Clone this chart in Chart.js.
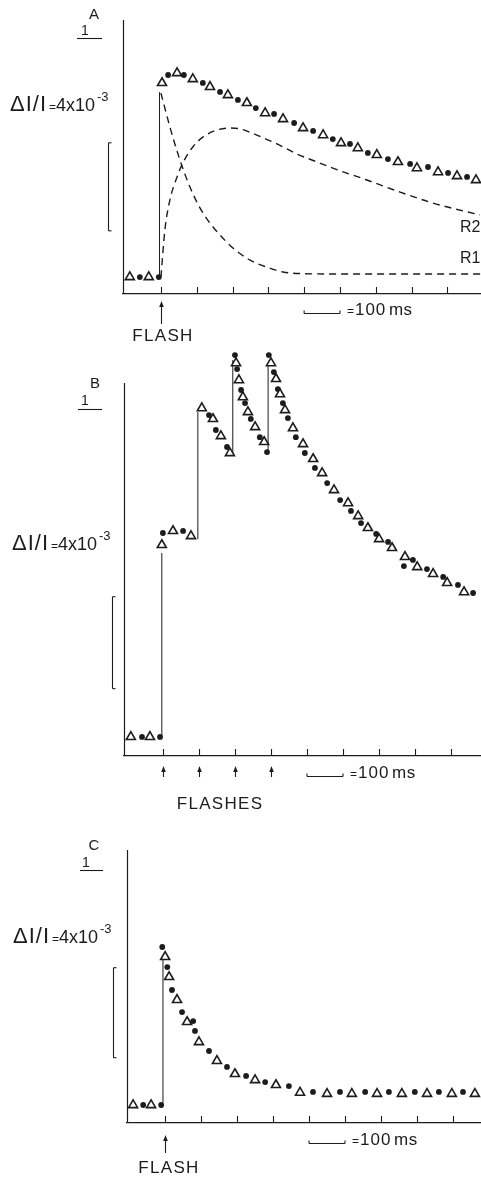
<!DOCTYPE html>
<html>
<head>
<meta charset="utf-8">
<script src="https://cdn.jsdelivr.net/npm/chart.js@4.4.1/dist/chart.umd.min.js"></script>
<style>
  html, body { margin: 0; padding: 0; background: #fff; }
  body { width: 481px; height: 1179px; position: relative; overflow: hidden; }
  canvas { position: absolute; left: 0; }
</style>
</head>
<body>
<canvas id="chartA" width="481" height="350" style="top:0"></canvas>
<canvas id="chartB" width="481" height="470" style="top:350px"></canvas>
<canvas id="chartC" width="481" height="359" style="top:820px"></canvas>
<script>
const INK = '#1c1c1c';
const FONT = "'Liberation Sans', Arial, sans-serif";

// x: ms after the (first) flash, y: dI/I in units of 1e-3
const TICKS_MS = [0, 100, 200, 300, 400, 500, 600, 700, 800];
const SCALE_BAR_MS = [400, 500];
const DELTA_UNITS = 4;

// A - one flash, with the two fitted components
const A_TRI_X = [-87, -34, 3, 45, 89, 137, 187, 240, 291, 341, 397, 453, 503, 550, 603, 662, 715, 774, 827, 880];
const A_TRI_Y = [0, 0, 8.82, 9.27, 9.0, 8.64, 8.27, 7.91, 7.45, 7.18, 6.77, 6.45, 6.09, 5.86, 5.55, 5.23, 4.95, 4.77, 4.59, 4.41];
const A_DOT_X = [-59, -6, 20, 64, 117, 165, 215, 265, 316, 372, 425, 480, 528, 578, 634, 696, 746, 802, 855];
const A_DOT_Y = [0, 0, 9.18, 9.18, 8.82, 8.41, 8.05, 7.68, 7.41, 7.0, 6.64, 6.27, 6.05, 5.64, 5.36, 5.14, 5.0, 4.73, 4.55];
const A_STEP_AT = [-4];
const A_STEP_FROM = [0];
const A_STEP_TO = [8.4];
const R1_X = [0, 25, 53, 81, 109, 137, 165, 201, 249, 296, 341, 388, 500, 700, 900];
const R1_Y = [8.36, 6.82, 5.32, 4.09, 3.14, 2.45, 1.91, 1.32, 0.77, 0.45, 0.23, 0.16, 0.14, 0.14, 0.14];
const R2_X = [0, 11, 25, 45, 61, 89, 117, 156, 193, 221, 268, 324, 380, 436, 480, 575, 668, 760, 891];
const R2_Y = [0, 2.14, 3.5, 4.55, 5.18, 5.91, 6.36, 6.68, 6.77, 6.73, 6.45, 6.05, 5.59, 5.23, 4.95, 4.41, 3.86, 3.36, 2.82];

// B - four flashes 100 ms apart
const B_TRI_X = [-89, -36, -3, 28, 78, 108, 139, 161, 186, 203, 211, 222, 236, 256, 281, 300, 314, 325, 339, 361, 389, 417, 442, 475, 514, 542, 569, 600, 636, 672, 706, 750, 789, 836];
const B_TRI_Y = [0, 0, 8.35, 8.96, 8.74, 14.3, 13.83, 13.09, 12.35, 16.26, 15.52, 14.78, 14.13, 13.48, 12.83, 16.26, 15.57, 14.91, 14.22, 13.43, 12.74, 12.09, 11.48, 10.74, 10.17, 9.61, 9.09, 8.61, 8.22, 7.83, 7.39, 7.09, 6.7, 6.3];
const B_DOT_X = [-58, -8, 0, 56, 128, 147, 178, 200, 206, 217, 228, 244, 269, 289, 294, 308, 319, 333, 347, 369, 394, 422, 456, 492, 522, 550, 592, 625, 669, 694, 733, 778, 819, 861];
const B_DOT_Y = [0, 0, 8.87, 8.96, 14.0, 13.35, 12.61, 16.61, 16.0, 15.09, 14.52, 13.83, 13.04, 12.39, 16.61, 15.87, 15.13, 14.52, 13.87, 13.04, 12.35, 11.7, 11.04, 10.3, 9.83, 9.3, 8.83, 8.48, 7.43, 7.7, 7.3, 6.96, 6.61, 6.26];
const B_STEP_AT = [-3, 97, 194, 292];
const B_STEP_FROM = [0, 8.61, 12.35, 12.39];
const B_STEP_TO = [8.0, 14.13, 16.39, 16.26];

// C - one flash, fast decay
const C_TRI_X = [-89, -39, 0, 11, 33, 61, 94, 144, 194, 250, 308, 375, 450, 519, 589, 658, 728, 797, 861];
const C_TRI_Y = [0, 0, 6.58, 5.69, 4.67, 3.69, 2.8, 1.96, 1.38, 1.11, 0.89, 0.55, 0.5, 0.5, 0.5, 0.5, 0.5, 0.5, 0.5];
const C_DOT_X = [-61, -11, -8, 6, 19, 47, 78, 83, 122, 172, 225, 278, 344, 411, 486, 556, 622, 694, 761, 828];
const C_DOT_Y = [0, 0, 7.02, 6.13, 5.11, 4.13, 3.73, 3.29, 2.4, 1.69, 1.29, 1.02, 0.84, 0.58, 0.58, 0.58, 0.58, 0.58, 0.58, 0.58];
const C_STEP_AT = [-6];
const C_STEP_FROM = [0.1];
const C_STEP_TO = [6.58];

const zip = (xs, ys) => xs.map((x, i) => ({ x: x, y: ys[i] }));

function steps(at, from, to) {
    const pts = [];
    at.forEach((x, i) => {
        if (i > 0) pts.push({ x: x, y: null });
        pts.push({ x: x, y: from[i] }, { x: x, y: to[i] });
    });
    return pts;
}

const annotate = {
    id: 'annotate',
    afterDraw(chart, args, o) {
        const ctx = chart.ctx;
        const xs = chart.scales.x;
        const ys = chart.scales.y;
        const axisY = xs.top;
        ctx.save();
        ctx.strokeStyle = INK;
        ctx.fillStyle = INK;
        ctx.lineWidth = 1.1;
        const seg = (x1, y1, x2, y2) => {
            ctx.beginPath(); ctx.moveTo(x1, y1); ctx.lineTo(x2, y2); ctx.stroke();
        };
        const txt = (s, x, y, size, align, spacing) => {
            ctx.font = size + 'px ' + FONT;
            ctx.textAlign = align || 'left';
            ctx.letterSpacing = (spacing || 0) + 'px';
            ctx.fillText(s, x, y);
        };

        // vertical axis, which stops below the tallest points in B
        const ax = Math.round(chart.chartArea.left) + 0.5;
        ctx.lineWidth = 1.2;
        seg(ax, ys.getPixelForValue(o.yAxisTop), ax, axisY);
        ctx.lineWidth = 1.1;

        // small ticks pointing up from the time axis
        TICKS_MS.forEach(t => {
            const px = Math.round(xs.getPixelForValue(t)) + 0.5;
            seg(px, axisY, px, axisY - 7);
        });

        // flash arrows
        o.flashes.forEach(t => {
            const px = Math.round(xs.getPixelForValue(t)) + 0.5;
            const top = axisY + o.arrow[0];
            seg(px, top + 4, px, axisY + o.arrow[1]);
            ctx.beginPath();
            ctx.moveTo(px, top);
            ctx.lineTo(px - 2.3, top + 6);
            ctx.lineTo(px + 2.3, top + 6);
            ctx.closePath();
            ctx.fill();
        });
        ctx.textBaseline = 'middle';
        txt(o.flashText, o.flashTextAt[0], o.flashTextAt[1], 17, 'center', 1.3);

        // 100 ms scale bar
        const b1 = xs.getPixelForValue(SCALE_BAR_MS[0]);
        const b2 = xs.getPixelForValue(SCALE_BAR_MS[1]);
        const by = axisY + o.barDy + 0.5;
        seg(b1, by, b2, by);
        seg(b1, by, b1, by - 3);
        seg(b2, by, b2, by - 3);
        ctx.textBaseline = 'alphabetic';
        txt('=', b2 + 7, axisY + o.barText, 12);
        txt('100', b2 + 15, axisY + o.barText, 17, 'left', 1);
        txt('ms', b2 + 49, axisY + o.barText, 17, 'left', 0.5);

        // dI/I calibration bracket
        const bx = o.bracketX + 0.5;
        const y0 = ys.getPixelForValue(o.bracketFrom);
        const yt = ys.getPixelForValue(o.bracketFrom + DELTA_UNITS);
        seg(bx, yt, bx, y0);
        seg(bx, yt, bx + 3, yt);
        seg(bx, y0, bx + 3, y0);

        // dI/I label
        const [lx, ly] = o.labelAt;
        txt('\u0394I/I', lx, ly, 22, 'left', 1);
        txt('=', lx + 39, ly, 12);
        txt('4x10', lx + 46, ly, 18);
        txt('-3', lx + 87, ly - 10, 13);

        // panel letter and the "1" mark
        ctx.textBaseline = 'middle';
        txt(o.letter, o.letterAt[0], o.letterAt[1], 15, 'center');
        txt('1', o.oneAt[0], o.oneAt[1], 14, 'center');
        seg(o.oneLine[0], o.oneLine[2] + 0.5, o.oneLine[1], o.oneLine[2] + 0.5);

        (o.curveLabels || []).forEach(l => txt(l[0], l[1], l[2], 16, 'left'));
        ctx.restore();
    }
};

function makePanel(id, p) {
    const datasets = [
        {
            data: zip(p.triX, p.triY),
            pointStyle: 'triangle', pointRadius: 5.2, pointBorderWidth: 1.6,
            pointBorderColor: INK, pointBackgroundColor: '#fff',
            showLine: false, clip: false
        },
        {
            data: zip(p.dotX, p.dotY),
            pointStyle: 'circle', pointRadius: 2.9, pointBorderWidth: 0,
            pointBackgroundColor: INK, showLine: false, clip: false
        },
        {
            data: steps(p.stepAt, p.stepFrom, p.stepTo),
            showLine: true, pointRadius: 0, borderWidth: 1, borderColor: INK,
            spanGaps: false, clip: false
        }
    ];
    (p.curves || []).forEach(c => datasets.push({
        data: zip(c[0], c[1]),
        showLine: true, pointRadius: 0, borderWidth: 1.4, borderColor: INK,
        borderDash: [7, 5], cubicInterpolationMode: 'monotone', clip: false
    }));

    new Chart(document.getElementById(id), {
        type: 'scatter',
        data: { datasets: datasets },
        options: {
            responsive: false,
            animation: false,
            events: [],
            layout: { padding: p.pad, autoPadding: false },
            plugins: {
                legend: { display: false },
                tooltip: { enabled: false },
                annotate: p.notes
            },
            scales: {
                x: {
                    type: 'linear', min: p.xRange[0], max: p.xRange[1],
                    grid: { display: false }, ticks: { display: false },
                    border: { display: true, color: INK, width: 1.2 },
                    afterFit: s => { s.height = 0; }
                },
                y: {
                    type: 'linear', min: p.yRange[0], max: p.yRange[1],
                    grid: { display: false }, ticks: { display: false },
                    border: { display: false },
                    afterFit: s => { s.width = 0; }
                }
            }
        },
        plugins: [annotate]
    });
}

makePanel('chartA', {
    triX: A_TRI_X, triY: A_TRI_Y, dotX: A_DOT_X, dotY: A_DOT_Y,
    stepAt: A_STEP_AT, stepFrom: A_STEP_FROM, stepTo: A_STEP_TO,
    curves: [[R1_X, R1_Y], [R2_X, R2_Y]],
    xRange: [-106, 894], yRange: [-0.77, 11.68],
    pad: { left: 123, top: 20, right: 0, bottom: 56 },
    notes: {
        yAxisTop: 11.68,
        letter: 'A', letterAt: [94, 15], oneAt: [85, 31], oneLine: [77, 102, 38],
        labelAt: [10, 111], bracketX: 108, bracketFrom: 2.1,
        flashes: [0], arrow: [7, 30], flashText: 'FLASH', flashTextAt: [163, 336],
        barDy: 19, barText: 21,
        curveLabels: [['R2', 460, 228], ['R1', 460, 259]]
    }
});

makePanel('chartB', {
    triX: B_TRI_X, triY: B_TRI_Y, dotX: B_DOT_X, dotY: B_DOT_Y,
    stepAt: B_STEP_AT, stepFrom: B_STEP_FROM, stepTo: B_STEP_TO,
    xRange: [-108, 883], yRange: [-0.83, 16.83],
    pad: { left: 124, top: 0, right: 0, bottom: 64 },
    notes: {
        yAxisTop: 15.39,
        letter: 'B', letterAt: [95, 34], oneAt: [85, 51], oneLine: [78, 102, 59],
        labelAt: [12, 200], bracketX: 112, bracketFrom: 2.1,
        flashes: [0, 100, 200, 300], arrow: [10, 21], flashText: 'FLASHES', flashTextAt: [220, 454],
        barDy: 20, barText: 22
    }
});

makePanel('chartC', {
    triX: C_TRI_X, triY: C_TRI_Y, dotX: C_DOT_X, dotY: C_DOT_Y,
    stepAt: C_STEP_AT, stepFrom: C_STEP_FROM, stepTo: C_STEP_TO,
    xRange: [-106, 878], yRange: [-0.8, 11.33],
    pad: { left: 127, top: 30, right: 0, bottom: 56 },
    notes: {
        yAxisTop: 11.33,
        letter: 'C', letterAt: [94, 26], oneAt: [86, 43], oneLine: [80, 103, 50],
        labelAt: [13, 123], bracketX: 113, bracketFrom: 2.1,
        flashes: [0], arrow: [12, 30], flashText: 'FLASH', flashTextAt: [169, 348],
        barDy: 20, barText: 22
    }
});
</script>
</body>
</html>
